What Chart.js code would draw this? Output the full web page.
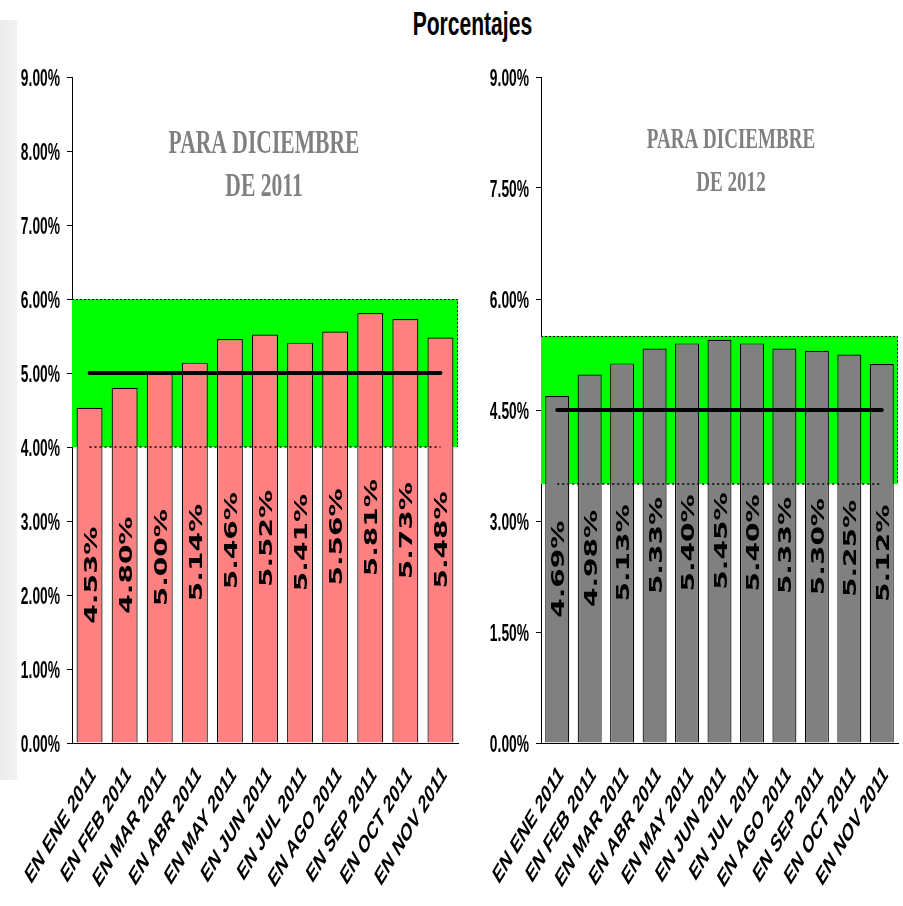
<!DOCTYPE html>
<html>
<head>
<meta charset="utf-8">
<script src="https://cdn.jsdelivr.net/npm/chart.js@4.4.1/dist/chart.umd.min.js"></script>
<style>
  html, body { margin: 0; padding: 0; background: #fff; }
  #page { position: relative; width: 903px; height: 906px; overflow: hidden; background: #fff; }
  #strip { position: absolute; left: 0; top: 20px; width: 17px; height: 760px;
           background: linear-gradient(to right, #ebebeb, #f3f3f3); }
  #title { position: absolute; left: 21px; top: 6px; width: 903px; text-align: center;
           font: bold 34px "Liberation Sans", Arial, sans-serif; line-height: 34px; color: #000; }
  #title span { display: inline-block; transform: scaleX(0.62); }
  canvas { position: absolute; top: 0; }
  #c2011 { left: 0; }
  #c2012 { left: 470px; }
</style>
</head>
<body>
<div id="page">
  <div id="strip"></div>
  <div id="title"><span>Porcentajes</span></div>
  <canvas id="c2011" width="470" height="906"></canvas>
  <canvas id="c2012" width="433" height="906"></canvas>
</div>
<script>
// Survey month in which each forecast was taken
const months = ['EN ENE 2011', 'EN FEB 2011', 'EN MAR 2011', 'EN ABR 2011', 'EN MAY 2011', 'EN JUN 2011',
                'EN JUL 2011', 'EN AGO 2011', 'EN SEP 2011', 'EN OCT 2011', 'EN NOV 2011'];

// Expected rate for December 2011 and December 2012 (percent)
const forecast2011 = [4.53, 4.80, 5.00, 5.14, 5.46, 5.52, 5.41, 5.56, 5.81, 5.73, 5.48];
const forecast2012 = [4.69, 4.98, 5.13, 5.33, 5.40, 5.45, 5.40, 5.33, 5.30, 5.25, 5.12];

// Target and tolerance band (percent)
const target2011 = 5.0;
const band2011 = [4.0, 6.0];
const target2012 = 4.5;
const band2012 = [3.5, 5.5];

// Y axis ticks
const ticks2011 = [0, 1, 2, 3, 4, 5, 6, 7, 8, 9];
const ticks2012 = [0, 1.5, 3, 4.5, 6, 7.5, 9];

// Panel headings
const heading2011 = ['PARA DICIEMBRE', 'DE 2011'];
const heading2012 = ['PARA DICIEMBRE', 'DE 2012'];

function decorPlugin(cfg) {
  return {
    id: 'decor',
    beforeDatasetsDraw(chart) {
      const { ctx, chartArea: a, scales: { y } } = chart;
      const top = y.getPixelForValue(cfg.band[1]);
      const bot = y.getPixelForValue(cfg.band[0]);
      ctx.save();
      ctx.fillStyle = '#00ff00';
      ctx.fillRect(a.left, top, a.right - a.left, bot - top);
      ctx.strokeStyle = '#000';
      ctx.lineWidth = 1;
      ctx.setLineDash([2, 2]);
      ctx.beginPath();
      ctx.moveTo(a.left, Math.round(top) + 0.5);
      ctx.lineTo(a.right - 0.5, Math.round(top) + 0.5);
      ctx.lineTo(a.right - 0.5, bot);
      ctx.stroke();
      ctx.restore();
    },
    afterDatasetsDraw(chart) {
      const { ctx } = chart;
      const meta = chart.getDatasetMeta(cfg.barIndex);
      ctx.save();
      ctx.fillStyle = '#000';
      ctx.font = 'bold 28px "DejaVu Sans", Verdana, sans-serif';
      ctx.textAlign = 'center';
      ctx.textBaseline = 'alphabetic';
      meta.data.forEach((bar, i) => {
        const p = bar.getProps(['x', 'y', 'base'], true);
        const cy = (p.y + p.base) / 2;
        ctx.save();
        ctx.translate(p.x + 1, cy);
        ctx.scale(0.6, 1);
        ctx.rotate(-Math.PI / 2);
        ctx.fillText(cfg.values[i].toFixed(2) + '%', 0, 10);
        ctx.restore();
      });
      ctx.restore();
    },
    afterDraw(chart) {
      const { ctx, chartArea: a, scales: { x, y } } = chart;
      ctx.save();
      ctx.fillStyle = '#000';
      // value axis labels
      ctx.font = 'bold 23px "Liberation Sans", Arial, sans-serif';
      ctx.textAlign = 'right';
      ctx.textBaseline = 'alphabetic';
      y.ticks.forEach((t, i) => {
        const py = y.getPixelForTick(i);
        ctx.save();
        ctx.translate(a.left - 12, py + 9);
        ctx.scale(0.6, 1);
        ctx.fillText(t.value.toFixed(2) + '%', 0, 0);
        ctx.restore();
      });
      // category labels
      ctx.font = 'bold 25px "Liberation Sans", Arial, sans-serif';
      ctx.textAlign = 'right';
      ctx.textBaseline = 'middle';
      months.forEach((m, i) => {
        const px = x.getPixelForValue(i);
        ctx.save();
        ctx.translate(px + 4, a.bottom + 28);
        ctx.scale(0.6, 1);
        ctx.rotate(-Math.PI / 4);
        ctx.fillText(m, 0, 0);
        ctx.restore();
      });
      // heading
      ctx.fillStyle = '#808080';
      ctx.font = 'bold ' + cfg.headSize + 'px "Liberation Serif", "Times New Roman", serif';
      ctx.textAlign = 'center';
      ctx.textBaseline = 'alphabetic';
      cfg.heading.forEach((line, k) => {
        ctx.save();
        ctx.translate(cfg.headX, cfg.headY[k]);
        ctx.scale(0.635, 1);
        ctx.fillText(line, 0, 0);
        ctx.restore();
      });
      ctx.restore();
    }
  };
}

function makePanel(id, values, color, target, band, tickList, yWidth, rightPad, heading, headX, headY, headSize) {
  const targetLine = months.map(() => target);
  const bandLine = months.map(() => band[0]);
  return new Chart(document.getElementById(id), {
    data: {
      labels: months,
      datasets: [
        { type: 'line', data: targetLine, borderColor: '#000', borderWidth: 4,
          borderCapStyle: 'round', pointRadius: 0, order: 0 },
        { type: 'line', data: bandLine, borderColor: '#000', borderWidth: 1.5,
          borderDash: [2, 3], pointRadius: 0, order: 0 },
        { type: 'bar', data: values, backgroundColor: color, borderColor: '#000', borderWidth: 1.2,
          barPercentage: 0.74, categoryPercentage: 1, order: 1 }
      ]
    },
    options: {
      responsive: false,
      animation: false,
      events: [],
      layout: { padding: { left: 0, top: 77, right: rightPad, bottom: 0 } },
      plugins: { legend: { display: false }, tooltip: { enabled: false }, title: { display: false } },
      scales: {
        x: {
          offset: true,
          grid: { display: false },
          border: { display: true, color: '#000', width: 1 },
          ticks: { display: false },
          afterFit(s) { s.height = 163; }
        },
        y: {
          min: 0, max: 9,
          grid: { display: true, drawOnChartArea: false, drawTicks: true, tickLength: 5, color: '#000' },
          border: { display: true, color: '#000', width: 1 },
          ticks: { display: false },
          afterBuildTicks(s) { s.ticks = tickList.map(v => ({ value: v })); },
          afterFit(s) { s.width = yWidth; }
        }
      }
    },
    plugins: [decorPlugin({ band, values, barIndex: 2, heading, headX, headY, headSize })]
  });
}

makePanel('c2011', forecast2011, '#ff8080', target2011, band2011, ticks2011, 72, 12,
          heading2011, 264, [153, 196], 34);
makePanel('c2012', forecast2012, '#808080', target2012, band2012, ticks2012, 71, 5,
          heading2012, 261, [148, 191], 30);
</script>
</body>
</html>
